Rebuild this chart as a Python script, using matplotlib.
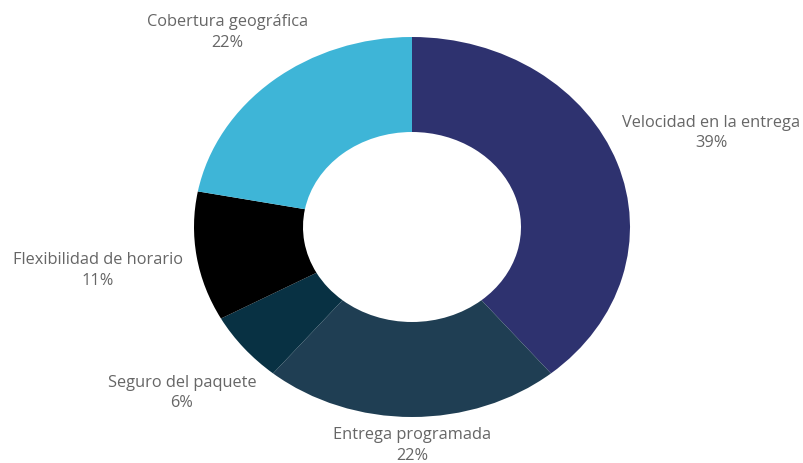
import matplotlib
matplotlib.use("Agg")
import matplotlib.pyplot as plt
import numpy as np

labels = ["Velocidad en la entrega", "Entrega programada", "Seguro del paquete",
          "Flexibilidad de horario", "Cobertura geográfica"]
values = [39, 22, 6, 11, 22]

COLOURS = ["#2e326f", "#1f3e53", "#083143", "#000000", "#3eb5d7"]
# distance of each label centre from the centre, in units of the outer radius
LABEL_R = [1.46, 1.15, 1.37, 1.46, 1.33]

plt.rcParams["font.family"] = ["Open Sans", "DejaVu Sans"]

fig = plt.figure(figsize=(8.04, 4.63), dpi=100)
# the donut in the reference is slightly wider than tall
ax = fig.add_axes([194 / 804, 46 / 463, 436 / 804, 380 / 463])

wedges, _ = ax.pie(values, startangle=90, counterclock=False, colors=COLOURS,
                   wedgeprops=dict(width=0.5, edgecolor="none"))
ax.set_aspect("auto")
ax.set_xlim(-1, 1)
ax.set_ylim(-1, 1)
ax.axis("off")

total = sum(values)
for w, lab, v, r in zip(wedges, labels, values, LABEL_R):
    mid = np.deg2rad((w.theta1 + w.theta2) / 2)
    ax.text(r * np.cos(mid), r * np.sin(mid), f"{lab}\n{v / total * 100:.0f}%",
            ha="center", va="center", fontsize=11.8, color="#666666",
            linespacing=1.4, clip_on=False)

fig.savefig("out.png", dpi=100)
